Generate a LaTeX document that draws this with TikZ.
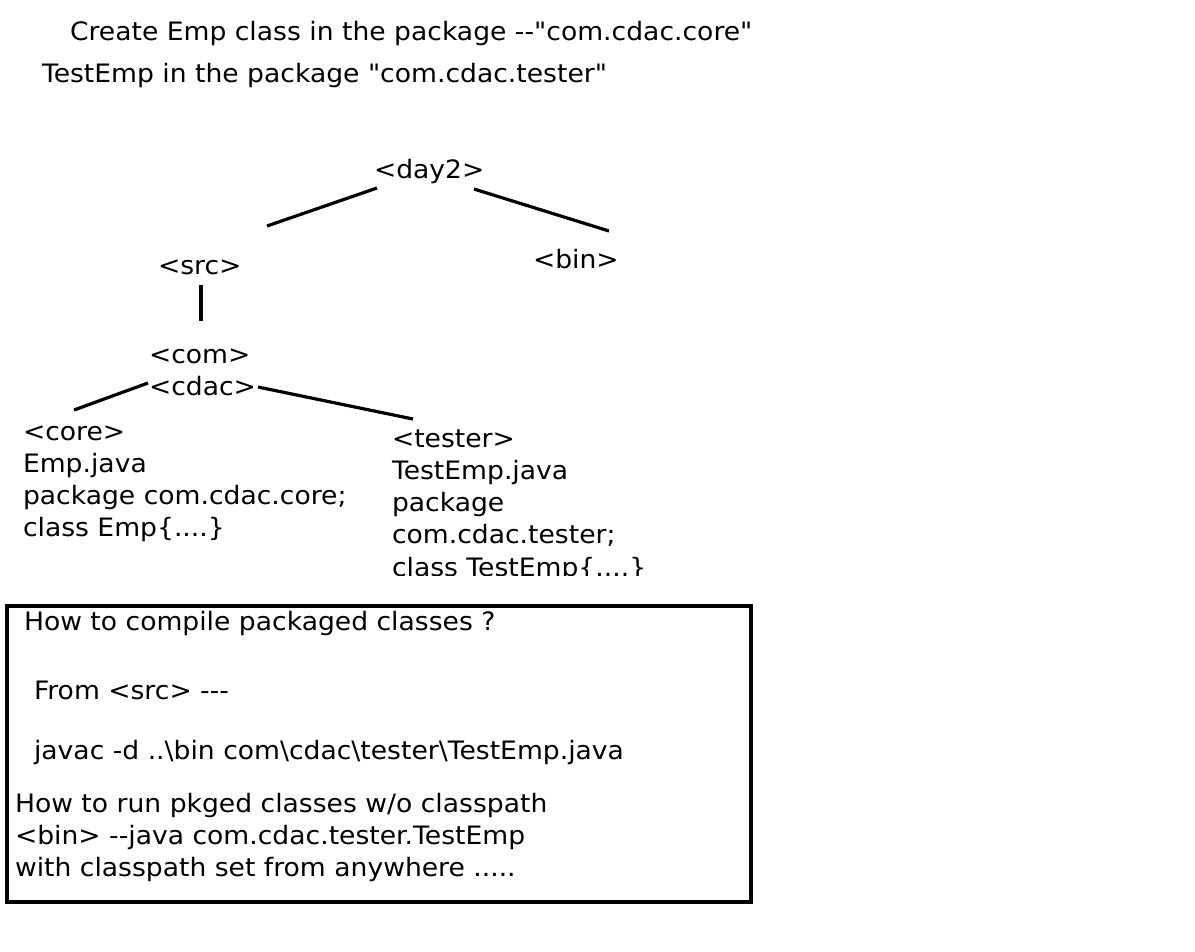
\documentclass[tikz,border=0pt]{standalone}
\usepackage{fontspec}
\setmainfont{DejaVu Sans}[Ligatures=TeXOff,FakeStretch=1.05]
\begin{document}
\begin{tikzpicture}[x=0.75pt,y=-0.75pt,
  txt/.style={inner sep=0pt,outer sep=0pt,anchor=base west,font=\fontsize{19pt}{24pt}\selectfont},
  link/.style={line width=2.4pt,line cap=butt},
  frame/.style={line width=2.4pt}]
\useasboundingbox[fill=white] (0,0) rectangle (1195,951);
\node[txt] (t1) at (70,40) {Create Emp class in the package --"com.cdac.core"};
\node[txt] (t2) at (42,82) {TestEmp in the package "com.cdac.tester"};
\node[txt] (day2) at (374,178) {<day2>};
\node[txt] (src) at (158,274) {<src>};
\node[txt] (bin) at (533,268) {<bin>};
\node[txt] (com) at (149,363) {<com>};
\node[txt] (cdac) at (149,395) {<cdac>};
\node[txt] (core) at (23,440) {<core>};
\node[txt] (core2) at (23,472) {Emp.java};
\node[txt] (core3) at (23,504) {package com.cdac.core;};
\node[txt] (core4) at (23,536) {class Emp\{....\}};
\node[txt] (tester) at (392,447) {<tester>};
\node[txt] (tester2) at (392,479) {TestEmp.java};
\node[txt] (tester3) at (392,511) {package};
\node[txt] (tester4) at (392,543) {com.cdac.tester;};
\begin{scope}
\clip (380,550) rectangle (700,575);
\node[txt] (tester5) at (392,576) {class TestEmp\{....\}};
\end{scope}
\coordinate (d2l) at (377,188);
\coordinate (srcT) at (267,226);
\coordinate (d2r) at (474,189);
\coordinate (binT) at (609,231);
\coordinate (srcB) at (201,285);
\coordinate (comT) at (201,321);
\coordinate (cdL) at (148,383);
\coordinate (coreT) at (74,410);
\coordinate (cdR) at (258,387);
\coordinate (testT) at (413,419);
\draw[link] (d2l) -- (srcT);
\draw[link] (d2r) -- (binT);
\draw[link] (srcB) -- (comT);
\draw[link] (cdL) -- (coreT);
\draw[link] (cdR) -- (testT);
\coordinate (boxNW) at (7,606);
\coordinate (boxSE) at (751,902);
\draw[frame] (boxNW) rectangle (boxSE);
\node[txt] (q1) at (24,630) {How to compile packaged classes ?};
\node[txt] (q2) at (34,699) {From <src> ---};
\node[txt] (q3) at (34,759) {javac -d ..\textbackslash bin com\textbackslash cdac\textbackslash tester\textbackslash TestEmp.java};
\node[txt] (q4) at (15,812) {How to run pkged classes w/o classpath};
\node[txt] (q5) at (15,844) {<bin> --java com.cdac.tester.TestEmp};
\node[txt] (q6) at (15,876) {with classpath set from anywhere .....};
\end{tikzpicture}
\end{document}
